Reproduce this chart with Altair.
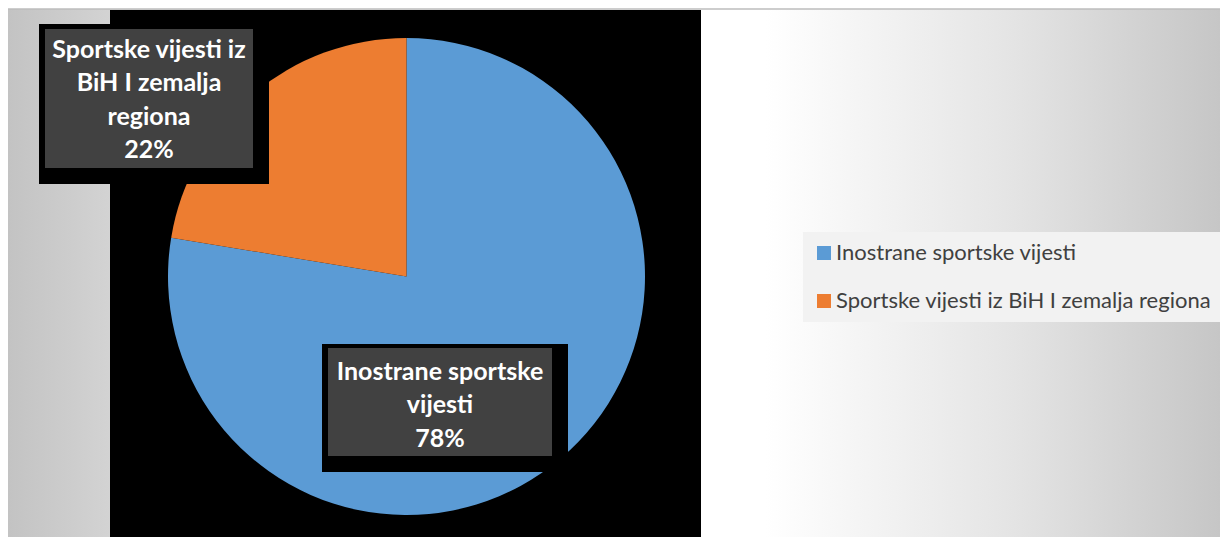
import altair as alt
import pandas as pd

# ---- data ----
categories = ["Inostrane sportske vijesti", "Sportske vijesti iz BiH I zemalja regiona"]
shares = [77.6, 22.4]
label_names = ["Inostrane sportske\nvijesti", "Sportske vijesti iz\nBiH I zemalja\nregiona"]
colors = ["#5B9BD5", "#ED7D31"]

df = pd.DataFrame({"category": categories, "share": shares, "name": label_names, "rank": [0, 1]})
df["label"] = df["name"] + "\n" + df["share"].round().astype(int).astype(str) + "%"

W, H = 1212, 529
one = alt.Data(values=[{}])

bg_grad = alt.LinearGradient(
    gradient="linear", x1=0, x2=1, y1=0, y2=0,
    stops=[
        alt.GradientStop(color="#c3c3c3", offset=0.0),
        alt.GradientStop(color="#d3d3d3", offset=0.085),
        alt.GradientStop(color="#ffffff", offset=0.565),
        alt.GradientStop(color="#ffffff", offset=0.625),
        alt.GradientStop(color="#e4e4e4", offset=0.83),
        alt.GradientStop(color="#c6c6c6", offset=1.0),
    ],
)

bg = alt.Chart(one).mark_rect(color=bg_grad).encode(
    x=alt.value(0), x2=alt.value(W), y=alt.value(1), y2=alt.value(H)
)
top_line = alt.Chart(one).mark_rule(color="#bdbdbd", strokeWidth=1.5).encode(
    x=alt.value(0), x2=alt.value(W), y=alt.value(1)
)
plot_bg = alt.Chart(one).mark_rect(color="#000000").encode(
    x=alt.value(102), x2=alt.value(693), y=alt.value(2), y2=alt.value(H)
)

pie = alt.Chart(df).mark_arc(outerRadius=238.5, strokeWidth=0).encode(
    theta=alt.Theta("share:Q", stack=True),
    order=alt.Order("rank:Q"),
    color=alt.Color(
        "category:N",
        scale=alt.Scale(domain=categories, range=colors),
        legend=alt.Legend(
            title=None,
            orient="none",
            legendX=795,
            legendY=224,
            fillColor="#f2f2f2",
            padding=10,
            symbolType="square",
            symbolSize=196,
            symbolStrokeWidth=0,
            labelFont="Lato",
            labelFontSize=22,
            labelColor="#404040",
            labelLimit=700,
            labelOffset=1,
            rowPadding=26,
        ),
    ),
    x=alt.value(398.5),
    y=alt.value(268.5),
)


def label_box(cat, shadow, box, cx, cy):
    base = alt.Chart(df).transform_filter(alt.datum.category == cat)
    sh = base.mark_rect(color="#000000").encode(
        x=alt.value(shadow[0]), x2=alt.value(shadow[1]), y=alt.value(shadow[2]), y2=alt.value(shadow[3])
    )
    bx = base.mark_rect(color="#414141").encode(
        x=alt.value(box[0]), x2=alt.value(box[1]), y=alt.value(box[2]), y2=alt.value(box[3])
    )
    tx = base.mark_text(
        font="Lato", fontSize=25, fontWeight="bold", color="#ffffff",
        align="center", baseline="middle", lineBreak="\n", lineHeight=33.3,
    ).encode(text="label:N", x=alt.value(cx), y=alt.value(cy))
    return [sh, bx, tx]


lab1 = label_box(categories[1], (31, 261, 16, 176), (37, 245, 21, 160), 141, 42)
lab2 = label_box(categories[0], (314, 560, 336, 464), (320, 544, 340, 448), 432, 364)

chart = alt.layer(bg, top_line, plot_bg, pie, *lab1, *lab2).properties(
    width=W, height=H, padding=0, autosize=alt.AutoSizeParams(type="none"), background="#ffffff"
).configure_view(strokeWidth=0)

chart.save("out.html", embed_options={"renderer": "svg", "actions": False})
